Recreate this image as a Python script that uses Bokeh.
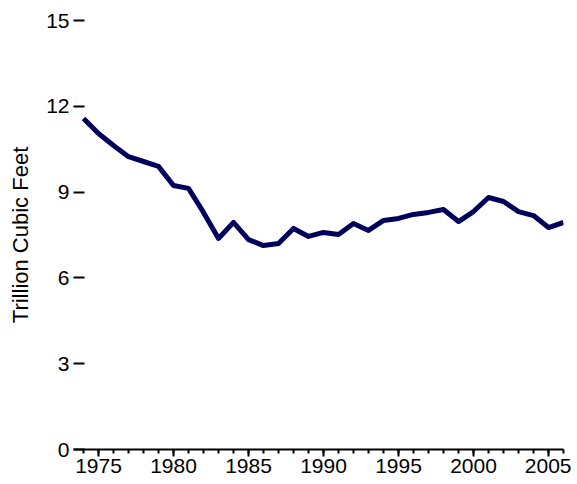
from bokeh.plotting import figure
from bokeh.models import Range1d, SingleIntervalTicker, FixedTicker
from bokeh.embed import file_html
from bokeh.resources import INLINE

years = list(range(1974, 2007))
values = [11.57, 11.05, 10.63, 10.24, 10.07, 9.90, 9.23, 9.13, 8.29, 7.38,
          7.94, 7.34, 7.13, 7.20, 7.73, 7.45, 7.59, 7.52, 7.90, 7.66,
          8.01, 8.08, 8.22, 8.29, 8.39, 7.97, 8.32, 8.81, 8.67, 8.32,
          8.18, 7.76, 7.94]
y_ticks = [0, 3, 6, 9, 12, 15]

p = figure(width=571, height=476, output_backend="svg", toolbar_location=None,
           x_range=Range1d(1973.333, 2006), y_range=Range1d(0, 15),
           min_border_left=73, min_border_top=20, min_border_right=8,
           min_border_bottom=27)
p.outline_line_color = None
p.xgrid.visible = False
p.ygrid.visible = False
p.background_fill_color = "white"

p.line(years, values, line_color="#00005c", line_width=5, line_join="round")

font = "Liberation Sans"
xa = p.xaxis[0]
xa.ticker = SingleIntervalTicker(interval=5, num_minor_ticks=5)
xa.axis_line_width = 2
xa.major_tick_line_width = 2
xa.minor_tick_line_width = 2
xa.major_tick_in = 0
xa.major_tick_out = 7
xa.minor_tick_in = 0
xa.minor_tick_out = 4
xa.major_label_text_font = font
xa.major_label_text_font_size = "21px"
xa.major_label_text_color = "black"
xa.major_label_standoff = 2

ya = p.yaxis[0]
ya.ticker = FixedTicker(ticks=y_ticks)
ya.axis_line_color = None
ya.minor_tick_line_color = None
ya.major_tick_line_width = 2
ya.major_tick_in = 11
ya.major_tick_out = 0
ya.major_label_text_font = font
ya.major_label_text_font_size = "21px"
ya.major_label_text_color = "black"
ya.major_label_standoff = 4
ya.axis_label = "Trillion Cubic Feet"
ya.axis_label_text_font = font
ya.axis_label_text_font_size = "22px"
ya.axis_label_text_font_style = "normal"
ya.axis_label_text_color = "black"
ya.axis_label_standoff = 10

open("out.html", "w").write(file_html(p, INLINE))
